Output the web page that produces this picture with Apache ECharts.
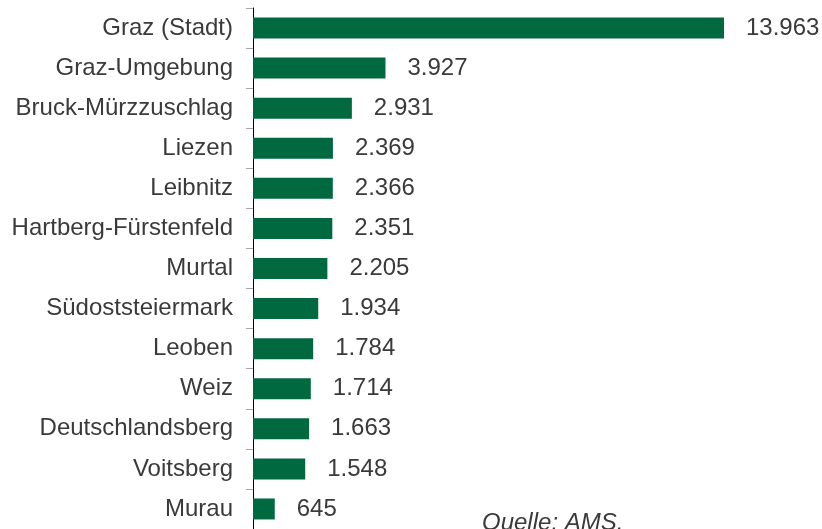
<!DOCTYPE html>
<html>
<head>
<meta charset="utf-8">
<script src="https://cdn.jsdelivr.net/npm/echarts@6/dist/echarts.min.js"></script>
<style>
  html, body { margin: 0; padding: 0; background: #fff; }
  #chart { width: 822px; height: 529px; }
</style>
</head>
<body>
<div id="chart"></div>
<script>
// Bezirke, oben nach unten
var bezirke = ["Graz (Stadt)", "Graz-Umgebung", "Bruck-Mürzzuschlag", "Liezen", "Leibnitz",
    "Hartberg-Fürstenfeld", "Murtal", "Südoststeiermark", "Leoben", "Weiz",
    "Deutschlandsberg", "Voitsberg", "Murau"];
var werte = [13963, 3927, 2931, 2369, 2366, 2351, 2205, 1934, 1784, 1714, 1663, 1548, 645];
var quelle = "Quelle: AMS.";

var chart = echarts.init(document.getElementById("chart"));
var textColor = "#3a3a3a";
var font = "Arial, 'Liberation Sans', sans-serif";

var option = {
    animation: false,
    grid: { left: 253, right: 98, top: 8, height: 524, containLabel: false },
    xAxis: {
        type: "value",
        min: 0,
        max: "dataMax",
        show: false
    },
    yAxis: {
        type: "category",
        inverse: true,
        data: bezirke,
        axisLine: { show: true, lineStyle: { color: "#000", width: 1 } },
        axisTick: { show: true, length: 7, lineStyle: { color: "#a6a6a6" } },
        axisLabel: { color: textColor, fontSize: 24, fontFamily: font, margin: 20, padding: [3, 0, 0, 0] },
        splitLine: { show: false }
    },
    series: [{
        type: "bar",
        data: werte,
        barWidth: 21,
        itemStyle: { color: "#006940" },
        label: {
            show: true,
            position: "right",
            distance: 22,
            color: textColor,
            fontSize: 24,
            fontFamily: font,
            padding: [3, 0, 0, 0],
            formatter: function (p) {
                return String(p.value).replace(/\B(?=(\d{3})+(?!\d))/g, ".");
            }
        }
    }],
    graphic: [{
        type: "text",
        left: 482,
        top: 511,
        style: { text: quelle, fill: textColor, font: "italic 24px Arial, 'Liberation Sans', sans-serif" }
    }]
};

chart.setOption(option, true);
window.onresize = function () {
    chart.resize();
};
</script>
</body>
</html>
